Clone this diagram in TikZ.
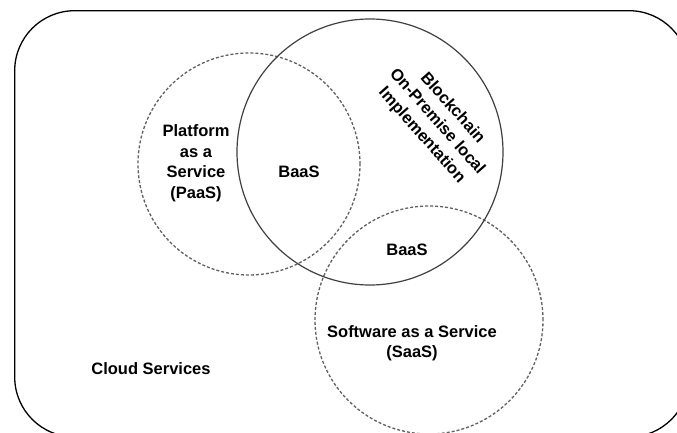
\documentclass[tikz,border=0pt]{standalone}
\usepackage{fontspec}
\setmainfont{Liberation Sans}
\begin{document}
\begin{tikzpicture}[x=1pt,y=-1pt,
  lbl/.style={font=\fontsize{16.5}{20.5}\selectfont\bfseries, align=center, inner sep=0pt, text=black},
  dashcirc/.style={circle, draw=black!62, line width=1.3pt, dash pattern=on 3pt off 2pt, inner sep=0pt},
  solidcirc/.style={ellipse, draw=black!75, line width=1.2pt, inner sep=0pt}]
\useasboundingbox (0,0) rectangle (677,433);
\clip (0,0) rectangle (677,433);
\fill[white] (0,0) rectangle (677,433);
% cloud boundary
\draw[line width=1.3pt, rounded corners=60pt] (14.7,10.7) rectangle (689,437);
% circles
\node[dashcirc, minimum size=222pt] (paas) at (249,164) {};
\node[dashcirc, minimum size=228pt] (saas) at (429,320) {};
\node[draw=black!75, line width=1.2pt, circle, minimum size=266pt, inner sep=0pt] (bc) at (370,152) {};
% labels
\node[lbl] (paastxt) at (196,163) {Platform\\as a\\Service\\(PaaS)};
\node[lbl] (baas1) at (299,172) {BaaS};
\node[lbl] (baas2) at (407,250) {BaaS};
\node[lbl] (saastxt) at (412,343) {Software as a Service\\(SaaS)};
\node[lbl] (cloud) at (151,369) {Cloud Services};
\node[lbl, rotate=-48.5] (bctxt) at (437,122) {Blockchain\\On-Premise local\\Implementation};
\end{tikzpicture}
\end{document}
